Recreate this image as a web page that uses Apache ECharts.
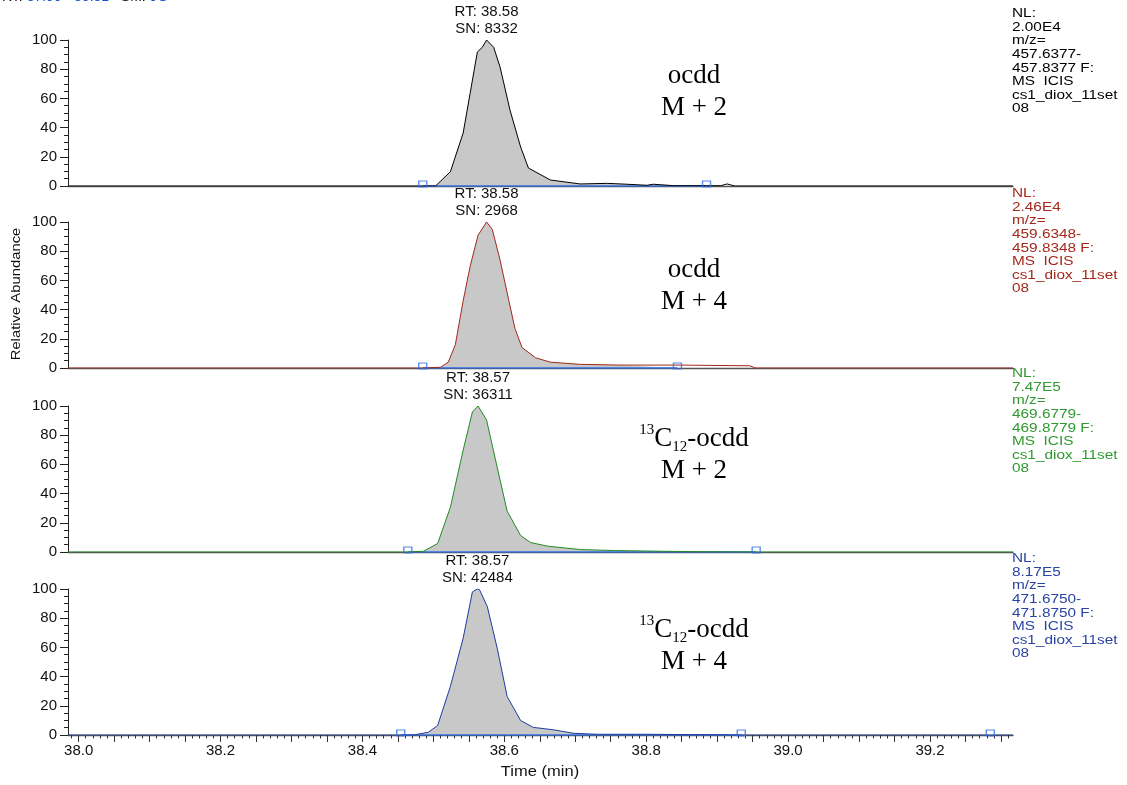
<!DOCTYPE html>
<html><head><meta charset="utf-8">
<script src="https://cdn.jsdelivr.net/npm/echarts@6/dist/echarts.min.js"></script>
<style>html,body{margin:0;padding:0;background:#fff}#chart{width:1127px;height:785px}</style>
</head><body><div id="chart"></div>
<script>
// ---------- data ----------
const xMin = 37.985, xMax = 39.317;
const xLabelValues = [38.0, 38.2, 38.4, 38.6, 38.8, 39.0, 39.2];
const yTickValues = [0, 20, 40, 60, 80, 100];

// panel 1: ocdd M+2 (black)
const t1 = [37.985, 38.485, 38.503, 38.524, 38.542, 38.552, 38.562, 38.569, 38.575, 38.585, 38.594, 38.608, 38.623, 38.634, 38.665, 38.707, 38.745, 38.773, 38.801, 38.810, 38.840, 38.885, 38.905, 38.914, 38.925, 39.317];
const v1 = [0, 0, 0, 9.8, 36.3, 64, 91.8, 95, 100, 95, 81.5, 52, 26.7, 12.3, 4.1, 1.4, 1.8, 1.2, 0.5, 1.2, 0.2, 0.2, 0.2, 1.4, 0, 0];
// panel 2: ocdd M+4 (red)
const t2 = [37.985, 38.485, 38.510, 38.521, 38.531, 38.542, 38.552, 38.563, 38.575, 38.583, 38.594, 38.606, 38.615, 38.625, 38.644, 38.665, 38.707, 38.763, 38.848, 38.946, 38.954, 39.317];
const v2 = [0, 0, 0.5, 4, 16, 46, 70, 91, 100, 95, 74, 47, 27, 14, 7, 4, 2.5, 2, 2, 1.5, 0, 0];
// panel 3: 13C12-ocdd M+2 (green)
const t3 = [37.985, 38.464, 38.486, 38.506, 38.524, 38.542, 38.555, 38.563, 38.575, 38.587, 38.604, 38.623, 38.637, 38.661, 38.707, 38.754, 38.824, 38.876, 38.960, 39.317];
const v3 = [0, 0, 0.5, 5.8, 30.6, 69.8, 95.9, 100, 90.4, 64.3, 28, 11.3, 6.5, 4, 1.7, 1, 0.5, 0.2, 0, 0];
// panel 4: 13C12-ocdd M+4 (blue)
const t4 = [37.985, 38.454, 38.472, 38.493, 38.506, 38.524, 38.542, 38.555, 38.562, 38.565, 38.576, 38.590, 38.604, 38.623, 38.641, 38.669, 38.697, 38.731, 38.801, 38.876, 38.940, 39.317];
const v4 = [0, 0, 0, 1.9, 6.5, 33.3, 66.3, 98, 100, 99.5, 88, 59.4, 26.4, 9.9, 5.2, 3.6, 1.2, 0.5, 0.5, 0.2, 0, 0];

const rtText = ['38.58', '38.58', '38.57', '38.57'];
const rtTime = [38.575, 38.575, 38.563, 38.562];
const snText = ['8332', '2968', '36311', '42484'];
const nlText = ['2.00E4', '2.46E4', '7.47E5', '8.17E5'];
const mzLow = ['457.6377', '459.6348', '469.6779', '471.6750'];
const mzHigh = ['457.8377', '459.8348', '469.8779', '471.8750'];
const labelled13C = [false, false, true, true];
const isotopeText = ['M + 2', 'M + 4', 'M + 2', 'M + 4'];
const peakStart = [38.485, 38.485, 38.464, 38.454];
const peakEnd = [38.885, 38.844, 38.955, 38.934];
const extraMarkers = [[], [], [], [39.285]];
const headerRange = ['37.99', '39.31'];
const headerSM = '9G';

// ---------- layout / style ----------
const times = [t1, t2, t3, t4];
const vals = [v1, v2, v3, v4];
const traceColors = ['#000000', '#a3281c', '#228b22', '#1f3c9e'];
const textColors = ['#000000', '#a3281c', '#2f9a2f', '#2a44a5'];
const gridTops = [40, 222, 406, 589];
const gridH = 146;
const gridLeft = 68, gridRight = 1127 - 1013;
const nlTops = [7, 187, 367, 552];
const annTops = [60, 254, 423, 614];
const markerColor = '#2f6fe6';
const sans = '"Liberation Sans", Arial, sans-serif';
const serif = '"Liberation Serif", "Times New Roman", serif';

const mediumTicks = [];
for (let k = 760; k <= 786; k++) mediumTicks.push(k / 20);
const minorTicks = [];
for (let k = 3799; k <= 3931; k++) minorTicks.push(k / 100);

const grids = [], xAxes = [], yAxes = [], series = [], graphics = [];

for (let i = 0; i < 4; i++) {
  grids.push({ left: gridLeft, right: gridRight, top: gridTops[i], height: gridH });
  const bottom = i === 3;
  xAxes.push({
    type: 'value', gridIndex: i, min: xMin, max: xMax, position: 'bottom',
    axisLine: { show: true, onZero: false, lineStyle: { color: '#555', width: 1.3 } },
    axisTick: { show: bottom, length: 7, customValues: mediumTicks, lineStyle: { color: '#333' } },
    axisLabel: { show: bottom, customValues: xLabelValues, formatter: v => v.toFixed(1), fontSize: 15, fontFamily: sans, color: '#111', margin: 8 },
    splitLine: { show: false }
  });
  yAxes.push({
    type: 'value', gridIndex: i, min: 0, max: 100, interval: 20,
    axisLine: { show: true, lineStyle: { color: '#222', width: 1 } },
    axisTick: { show: true, length: 8, lineStyle: { color: '#222' } },
    minorTick: { show: true, splitNumber: 4, length: 4, lineStyle: { color: '#222' } },
    axisLabel: { fontSize: 15, fontFamily: sans, color: '#111', margin: 11 },
    splitLine: { show: false }
  });

  const data = times[i].map((t, k) => [t, vals[i][k]]);
  const fillData = data.filter(d => d[0] >= peakStart[i] && d[0] <= peakEnd[i]);
  fillData.unshift([peakStart[i], 0]);
  fillData.push([peakEnd[i], 0]);

  series.push({
    type: 'line', xAxisIndex: i, yAxisIndex: i, data: fillData, symbol: 'none',
    lineStyle: { width: 0 }, areaStyle: { color: '#c8c8c8', opacity: 1 }, z: 1, silent: true
  });
  series.push({
    type: 'line', xAxisIndex: i, yAxisIndex: i, data: [[peakStart[i], 0], [peakEnd[i], 0]],
    symbol: 'none', lineStyle: { color: markerColor, width: 1.6 }, z: 2
  });
  series.push({
    type: 'line', xAxisIndex: i, yAxisIndex: i, data: data, symbol: 'none',
    lineStyle: { color: traceColors[i], width: 1 }, z: 3,
    markPoint: {
      symbol: 'circle', symbolSize: 0,
      data: [{ coord: [rtTime[i], 100] }],
      label: {
        show: true, position: 'top', distance: 3,
        formatter: 'RT: ' + rtText[i] + '\nSN: ' + snText[i],
        fontSize: 15, lineHeight: 17, fontFamily: sans, color: '#111', align: 'center'
      }
    }
  });
  const markers = [peakStart[i], peakEnd[i]].concat(extraMarkers[i]).map(t => [t, 0]);
  series.push({
    type: 'scatter', xAxisIndex: i, yAxisIndex: i, data: markers,
    symbol: 'rect', symbolSize: [8, 6], symbolOffset: [0, -2],
    itemStyle: { color: 'rgba(255,255,255,0)', borderColor: markerColor, borderWidth: 1.2 }, z: 4
  });

  // right-hand annotation
  graphics.push({
    type: 'text', x: 1012, y: nlTops[i], scaleX: 1.28,
    style: {
      text: ['NL:', nlText[i], 'm/z=', mzLow[i] + '-', mzHigh[i] + ' F:', 'MS  ICIS', 'cs1_diox_11set', '08'].join('\n'),
      font: '12px ' + sans, fill: textColors[i], lineHeight: 13.6,
      align: 'left', verticalAlign: 'top'
    }
  });
  // compound label
  const first = labelled13C[i] ? '{sup|13}C{sub|12}-ocdd' : 'ocdd';
  graphics.push({
    type: 'text', x: 694, y: annTops[i],
    style: {
      text: first + '\n' + isotopeText[i],
      font: '27px ' + serif, fill: '#000', lineHeight: 32,
      align: 'center', verticalAlign: 'top',
      rich: {
        sup: { font: '15px ' + serif, fill: '#000', lineHeight: 20, verticalAlign: 'top' },
        sub: { font: '15px ' + serif, fill: '#000', lineHeight: 20, verticalAlign: 'bottom' }
      }
    }
  });
}

// minor ticks on the bottom axis
xAxes.push({
  type: 'value', gridIndex: 3, min: xMin, max: xMax, position: 'bottom', offset: 0,
  axisLine: { show: false },
  axisTick: { show: true, length: 3.5, customValues: minorTicks, lineStyle: { color: '#333' } },
  axisLabel: { show: false }, splitLine: { show: false }
});

graphics.push({
  type: 'text', x: 16, y: 294, rotation: Math.PI / 2, scaleX: 1.14,
  style: { text: 'Relative Abundance', font: '13px ' + sans, fill: '#111', align: 'center', verticalAlign: 'middle' }
});
graphics.push({
  type: 'text', x: 540, y: 772, scaleX: 1.18,
  style: { text: 'Time (min)', font: '14px ' + sans, fill: '#111', align: 'center', verticalAlign: 'middle' }
});
graphics.push({
  type: 'text', x: 2, y: 4,
  style: {
    text: 'RT: {b|' + headerRange[0] + ' - ' + headerRange[1] + '}   SM: {b|' + headerSM + '}',
    font: '14px ' + sans, fill: '#111', align: 'left', verticalAlign: 'bottom',
    rich: { b: { font: '14px ' + sans, fill: '#1a4fd0' } }
  }
});

const chart = echarts.init(document.getElementById('chart'), null, { renderer: 'canvas' });
chart.setOption({
  animation: false,
  backgroundColor: '#ffffff',
  grid: grids, xAxis: xAxes, yAxis: yAxes, series: series,
  graphic: { elements: graphics }
});
</script></body></html>
